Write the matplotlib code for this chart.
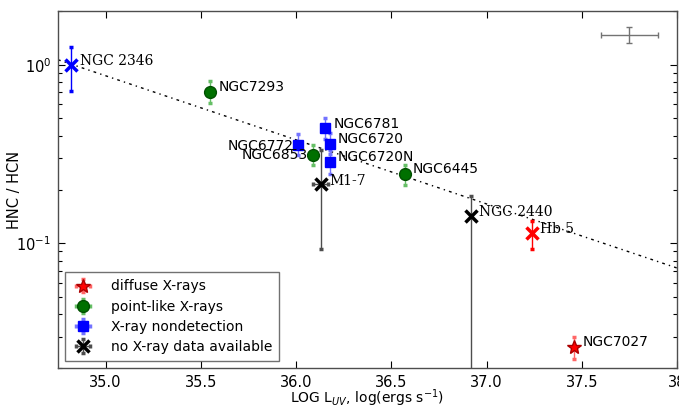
import numpy as np
import matplotlib
matplotlib.use("Agg")
import matplotlib.pyplot as plt
from matplotlib.ticker import LogLocator, NullFormatter

# ---- data ----
diffuse_names = ["NGC7027"]
diffuse_x = [37.46]
diffuse_y = [0.0262]
diffuse_lo = [0.0036]
diffuse_hi = [0.0036]

hb5_name = "Hb 5"
hb5_x = [37.24]
hb5_y = [0.114]
hb5_lo = [0.021]
hb5_hi = [0.020]

point_names = ["NGC7293", "NGC6853", "NGC6445"]
point_x = [35.55, 36.09, 36.57]
point_y = [0.707, 0.314, 0.243]
point_lo = [0.10, 0.038, 0.032]
point_hi = [0.107, 0.043, 0.033]

nondet_names = ["NGC6772", "NGC6781", "NGC6720", "NGC6720N"]
nondet_x = [36.01, 36.15, 36.18, 36.18]
nondet_y = [0.357, 0.445, 0.362, 0.287]
nondet_lo = [0.045, 0.06, 0.045, 0.044]
nondet_hi = [0.05, 0.06, 0.05, 0.048]

n2346_name = "NGC 2346"
n2346_x = [34.82]
n2346_y = [1.0]
n2346_lo = [0.29]
n2346_hi = [0.26]

nodata_names = ["M1-7", "NGC 2440"]
nodata_x = [36.13, 36.92]
nodata_y = [0.216, 0.142]
nodata_lo = [0.123, 0.132]
nodata_hi = [0.115, 0.041]
nodata_xerr = [0.04, 0.0]

# typical error bar
typ_x = [37.75]
typ_y = [1.47]
typ_xerr = [0.15]
typ_lo = [0.14]
typ_hi = [0.16]

# trend line: log10(HNC/HCN) = a + b * (x - x0)
fit_x0 = 34.75
fit_a = 0.028
fit_b = -0.359

# ---- plot ----
fig = plt.figure(figsize=(6.79, 4.05), dpi=100)
ax = fig.add_axes([58/679, 1-368/405, 619/679, 357/405])
ax.set_yscale("log")

xx = np.array([34.75, 38.0])
ax.plot(xx, 10**(fit_a + fit_b*(xx - fit_x0)), color="k", lw=1.0,
        linestyle=(0, (2, 3, 1, 3)), zorder=1)

cap = dict(capsize=1.5, capthick=2.5)

h_diff = ax.errorbar(diffuse_x, diffuse_y, yerr=[diffuse_lo, diffuse_hi],
                     xerr=[0]*len(diffuse_x),
                     fmt="*", color="red", ms=10, mec="#aa0000", ecolor=(1, 0.4, 0.4),
                     elinewidth=1, **cap, zorder=3)
ax.errorbar(hb5_x, hb5_y, yerr=[hb5_lo, hb5_hi], fmt="x", color="red", ms=9,
            mew=2.5, ecolor="red", elinewidth=1, **cap, zorder=3)

h_point = ax.errorbar(point_x, point_y, yerr=[point_lo, point_hi],
                      xerr=[0]*len(point_x),
                      fmt="o", color="#007000", ms=8.5, mec="#005000",
                      ecolor=(0.4, 0.75, 0.4), elinewidth=1, **cap, zorder=3)

h_nondet = ax.errorbar(nondet_x, nondet_y, yerr=[nondet_lo, nondet_hi],
                       xerr=[0]*len(nondet_x),
                       fmt="s", color="blue", ms=7.5, mec="blue",
                       ecolor=(0.45, 0.45, 1.0), elinewidth=1, **cap, zorder=3)
ax.errorbar(n2346_x, n2346_y, yerr=[n2346_lo, n2346_hi], fmt="x", color="blue",
            ms=9, mew=2.5, ecolor="blue", elinewidth=1, **cap, zorder=3)

h_nodata = ax.errorbar(nodata_x, nodata_y, yerr=[nodata_lo, nodata_hi],
                       xerr=nodata_xerr,
                       fmt="x", color="k", ms=9, mew=2.5, ecolor="0.3",
                       elinewidth=1, **cap, zorder=3)

ax.errorbar(typ_x, typ_y, xerr=typ_xerr, yerr=[typ_lo, typ_hi], fmt="none",
            ecolor="0.45", elinewidth=1, capsize=2, capthick=1)

# labels
def lab(name, x, y, dx, dy, serif=False, ha="left"):
    ax.annotate(name, (x, y), xytext=(dx, dy), textcoords="offset pixels",
                ha=ha, va="center", fontsize=10,
                family="DejaVu Serif" if serif else "DejaVu Sans", zorder=4)

lab(diffuse_names[0], diffuse_x[0], diffuse_y[0], 8, 5)
lab(hb5_name, hb5_x[0], hb5_y[0], 8, 4, serif=True)
lab(point_names[0], point_x[0], point_y[0], 8, 5)
lab(point_names[1], point_x[1], point_y[1], -5, 0, ha="right")
lab(point_names[2], point_x[2], point_y[2], 8, 5)
lab(nondet_names[0], nondet_x[0], nondet_y[0], -4, -1, ha="right")
lab(nondet_names[1], nondet_x[1], nondet_y[1], 9, 4)
lab(nondet_names[2], nondet_x[2], nondet_y[2], 7, 5)
lab(nondet_names[3], nondet_x[3], nondet_y[3], 7, 5)
lab(n2346_name, n2346_x[0], n2346_y[0], 9, 4, serif=True)
lab(nodata_names[0], nodata_x[0], nodata_y[0], 9, 3, serif=True)
lab(nodata_names[1], nodata_x[1], nodata_y[1], 8, 4, serif=True)

ax.set_xlim(34.75, 38.0)
ax.set_ylim(0.02, 2.0)
ax.set_xticks([35.0, 35.5, 36.0, 36.5, 37.0, 37.5, 38.0])
ax.set_xticklabels(["35.0", "35.5", "36.0", "36.5", "37.0", "37.5", "38"])
ax.yaxis.set_major_locator(LogLocator(base=10, numticks=10))
ax.yaxis.set_minor_locator(LogLocator(base=10, subs=np.arange(2, 10), numticks=10))
ax.yaxis.set_minor_formatter(NullFormatter())
ax.tick_params(which="both", direction="in", top=True, right=True, labelsize=10.5)
ax.tick_params(which="major", length=5, width=0.8, pad=5)
ax.tick_params(which="minor", length=3, width=0.8)
for s in ax.spines.values():
    s.set_color("0.3")
    s.set_linewidth(1.0)

ax.set_xlabel(r"LOG L$_{UV}$, log(ergs s$^{-1}$)", fontsize=10)
ax.xaxis.set_label_coords(0.5, -0.055)
ax.set_ylabel("HNC / HCN", fontsize=10.5)
ax.yaxis.set_label_coords(-0.058, 0.5)

leg = ax.legend([h_diff, h_point, h_nondet, h_nodata],
                ["diffuse X-rays", "point-like X-rays", "X-ray nondetection",
                 "no X-ray data available"],
                loc="lower left", numpoints=1, fontsize=10, fancybox=False,
                borderaxespad=0.5, handletextpad=1.2, labelspacing=0.45,
                borderpad=0.5, handlelength=1.6)
leg.get_frame().set_edgecolor("0.3")
leg.get_frame().set_linewidth(1.0)

fig.savefig("out.png", dpi=100)
